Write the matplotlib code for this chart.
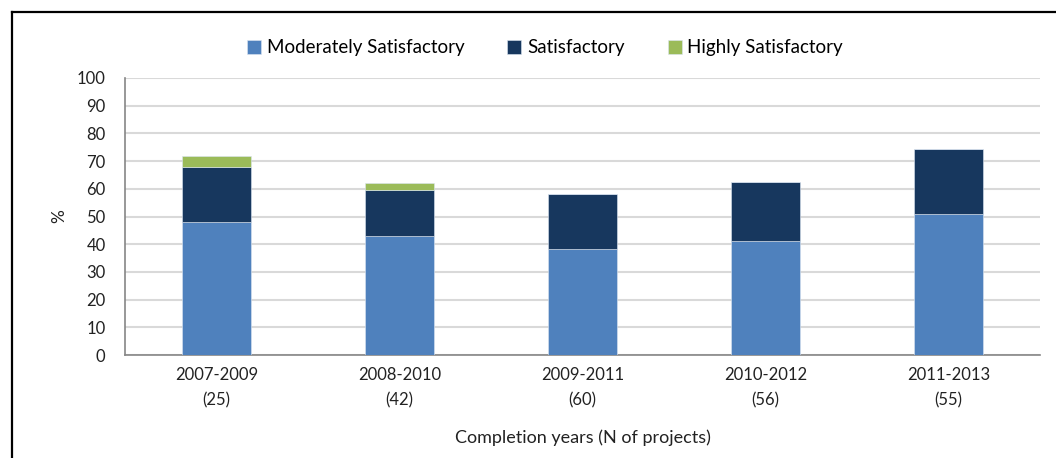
import matplotlib
matplotlib.use("Agg")
import matplotlib.pyplot as plt
from matplotlib.lines import Line2D
import numpy as np

categories = ["2007-2009\n(25)", "2008-2010\n(42)", "2009-2011\n(60)", "2010-2012\n(56)", "2011-2013\n(55)"]
moderately = [48.0, 42.9, 38.3, 41.1, 50.9]
satisfactory = [20.0, 16.7, 20.0, 21.4, 23.6]
highly = [4.0, 2.4, 0.0, 0.0, 0.0]
series_names = ["Moderately Satisfactory", "Satisfactory", "Highly Satisfactory"]
colors = ["#4F81BD", "#17375E", "#9BBB59"]
yticks = list(range(0, 101, 10))

plt.rcParams['font.family'] = ['Lato', 'DejaVu Sans']

fig = plt.figure(figsize=(10.56, 4.58), dpi=100)
ax = fig.add_axes([125/1056, 1-355/458, (1040-125)/1056, (355-78)/458])

x = np.arange(len(categories))
w = 0.38
bottom = np.zeros(len(categories))
for vals, name, c in zip([moderately, satisfactory, highly], series_names, colors):
    v = np.array(vals)
    ax.bar(x, v, w, bottom=bottom, color=c, label=name, edgecolor="#DCE6F2", linewidth=0.4, zorder=3)
    bottom += v

ax.set_xlim(-0.5, len(categories) - 0.5)
ax.set_ylim(0, 100)
ax.set_yticks(yticks)
ax.set_xticks(x)
ax.set_xticklabels(categories, fontsize=12, color="#222222", linespacing=1.65)
ax.tick_params(axis='y', labelsize=12, length=0, pad=14, colors="#222222")
ax.tick_params(axis='x', length=0, pad=9)
ax.yaxis.grid(True, color="#D9D9D9", linewidth=1.5, zorder=0)
ax.set_axisbelow(True)
for s in ["top", "right"]:
    ax.spines[s].set_visible(False)
ax.spines["left"].set_color("#868686")
ax.spines["bottom"].set_color("#868686")
ax.spines["left"].set_linewidth(1.2)
ax.spines["bottom"].set_linewidth(1.2)

ax.set_ylabel("%", fontsize=12.5, labelpad=7, color="#222222")
ax.set_xlabel("Completion years (N of projects)", fontsize=13, labelpad=15, color="#222222")

handles, labels = ax.get_legend_handles_labels()
fig.legend(handles, labels, loc="center", bbox_to_anchor=(545/1056, 1-48/458), ncol=3,
           frameon=False, fontsize=13.5, handlelength=0.75, handleheight=0.75,
           handletextpad=0.3, columnspacing=2.3)

fig.add_artist(Line2D([11.5/1056, 11.5/1056], [0, 1-12/458], transform=fig.transFigure, color="black", linewidth=1.6))
fig.add_artist(Line2D([11.5/1056, 1], [1-12/458, 1-12/458], transform=fig.transFigure, color="black", linewidth=1.6))

fig.savefig("out.png", dpi=100)
